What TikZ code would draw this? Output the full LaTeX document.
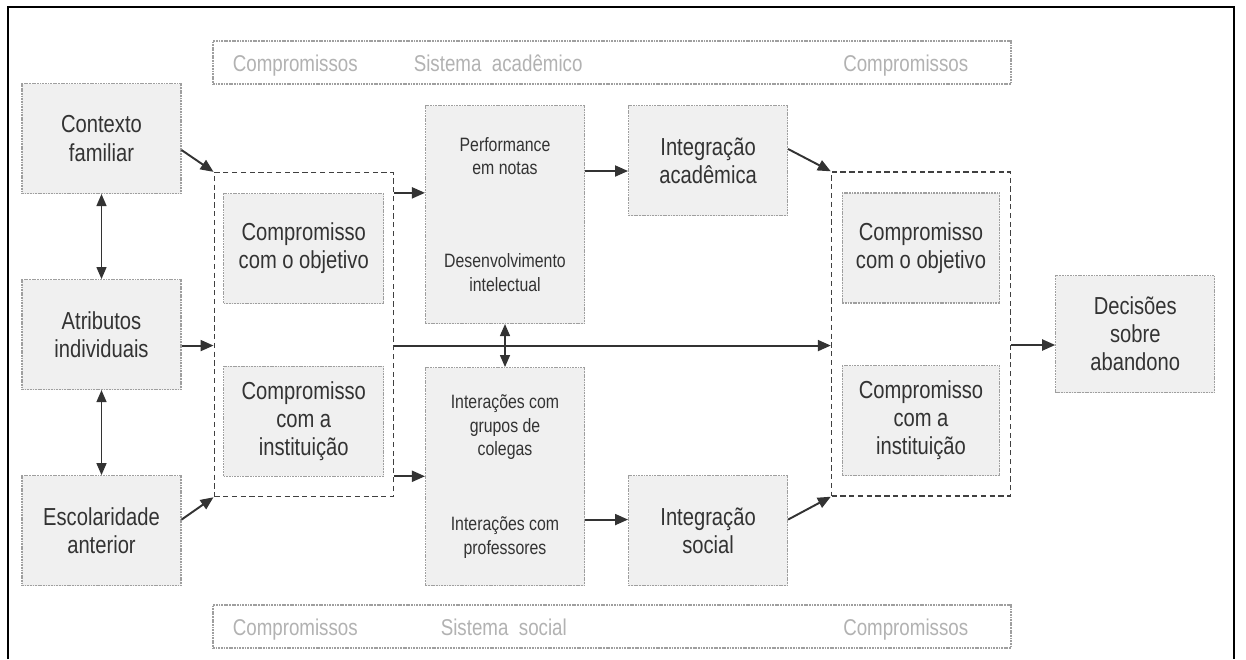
\documentclass[tikz,border=0pt]{standalone}
\usepackage{fontspec}
\setmainfont{Liberation Sans}[FakeStretch=0.82]
\usetikzlibrary{positioning, arrows.meta, calc}

\begin{document}
\begin{tikzpicture}[
    node distance=1.7cm,
    font=\fontsize{14}{16}\selectfont,
    text=black!80,
    box/.style={
        rectangle,
        draw=gray!75,
        dash pattern=on 1pt off 0.5pt,
        line width=0.6pt,
        fill=gray!12,
        minimum width=3.18cm,
        minimum height=2.2cm,
        align=center,
        inner sep=2pt
    },
    tallbox/.style={box, minimum height=4.36cm, font=\fontsize{11}{13.6}\selectfont},
    group/.style={
        rectangle,
        draw=black!75,
        dash pattern=on 3pt off 2pt,
        line width=0.8pt,
        minimum width=3.58cm,
        minimum height=6.48cm
    },
    banner/.style={
        rectangle,
        draw=gray!75,
        dash pattern=on 1pt off 0.5pt,
        line width=0.6pt,
        fill=white,
        minimum width=15.96cm,
        minimum height=0.86cm
    },
    bannertext/.style={text=gray!60, font=\fontsize{13}{15}\selectfont, inner sep=0pt},
    arr/.style={-{Triangle[length=2.6mm, width=2.2mm]}, line width=1.1pt, draw=black!80},
    dbl/.style={{Triangle[length=2.4mm, width=2mm]}-{Triangle[length=2.4mm, width=2mm]},
        line width=0.8pt, draw=black!80}
]
\useasboundingbox (0,0) rectangle (24.92,-13.18);
\draw[line width=1.6pt] (0.16,-13.18) |- (24.68,-0.14) -- (24.68,-13.18);

% banners
\node[banner] (topbar) at (12.24,-1.25) {};
\node[banner] (botbar) at (12.24,-12.53) {};
\node[bannertext, anchor=base west] (tcompa) at ([xshift=0.4cm, yshift=-0.18cm]topbar.west) {Compromissos};
\node[bannertext, anchor=base west] (tsist)  at ([xshift=4.02cm, yshift=-0.18cm]topbar.west) {Sistema\ \ acadêmico};
\node[bannertext, anchor=base east] (tcompb) at ([xshift=-0.86cm, yshift=-0.18cm]topbar.east) {Compromissos};
\node[bannertext, anchor=base west] (bcompa) at ([xshift=0.4cm, yshift=-0.18cm]botbar.west) {Compromissos};
\node[bannertext, anchor=base west] (bsist)  at ([xshift=4.56cm, yshift=-0.18cm]botbar.west) {Sistema\ \ social};
\node[bannertext, anchor=base east] (bcompb) at ([xshift=-0.86cm, yshift=-0.18cm]botbar.east) {Compromissos};

% left column
\node[box] (famil) at (2.03,-2.77) {Contexto\\familiar};
\node[box, below=of famil] (atrib) {Atributos\\individuais};
\node[box, below=of atrib] (escol) {Escolaridade\\anterior};

% left group
\node[group, right=0.64cm of atrib] (lgrp) {};
\node[box, minimum width=3.2cm] (lobj)  at ($(lgrp.center)+(0,1.72)$)  {Compromisso\\com o objetivo};
\node[box, minimum width=3.2cm] (linst) at ($(lgrp.center)+(0,-1.73)$) {Compromisso\\com a\\instituição};

% middle
\node[tallbox] (perf) at (10.10,-4.29)
    {Performance\\em notas\\[1.38cm]Desenvolvimento\\intelectual};
\node[tallbox, below=0.86cm of perf] (inter)
    {Interações com\\grupos de\\colegas\\[1.02cm]Interações com\\professores};
\node[box, right=0.86cm of perf.north east, anchor=north west] (iacad) {Integração\\acadêmica};
\node[box, right=0.86cm of inter.south east, anchor=south west] (isoc) {Integração\\social};

% right group
\node[group] (rgrp) at (18.42,-6.68) {};
\node[box, minimum width=3.15cm] (robj)  at ($(rgrp.center)+(0,1.72)$)  {Compromisso\\com o objetivo};
\node[box, minimum width=3.15cm] (rinst) at ($(rgrp.center)+(0,-1.73)$) {Compromisso\\com a\\instituição};
\node[box, minimum height=2.34cm, right=0.88cm of rgrp] (decis) {Decisões\\sobre\\abandono};

% connectors
\coordinate (cfam) at ([yshift=-0.23cm]famil.east);
\coordinate (catr) at ([yshift=-0.22cm]atrib.east);
\coordinate (cesc) at ([yshift=0.22cm]escol.east);
\coordinate (cup)  at ([yshift=-0.42cm]lgrp.north east);
\coordinate (cdn)  at ([yshift=0.42cm]lgrp.south east);
\coordinate (cmid) at ([yshift=-0.22cm]lgrp.east);
\coordinate (cacd) at ([yshift=-0.21cm]iacad.west);
\coordinate (csoc) at ([yshift=0.22cm]isoc.west);
\coordinate (cia)  at ([yshift=0.23cm]iacad.east);
\coordinate (cis)  at ([yshift=0.22cm]isoc.east);
\coordinate (cout) at ([yshift=-0.22cm]rgrp.east);

\draw[dbl] (famil) -- (atrib);
\draw[dbl] (atrib) -- (escol);
\draw[arr] (cfam) -- (lgrp.north west);
\draw[arr] (catr) -- (catr -| lgrp.west);
\draw[arr] (cesc) -- (lgrp.south west);
\draw[arr] (cup) -- (cup -| perf.west);
\draw[arr] (cdn) -- (cdn -| inter.west);
\draw[arr] (cmid) -- (cmid -| rgrp.west);
\draw[dbl] (perf) -- (inter);
\draw[arr] (cacd -| perf.east) -- (cacd);
\draw[arr] (csoc -| inter.east) -- (csoc);
\draw[arr] (cia) -- (rgrp.north west);
\draw[arr] (cis) -- (rgrp.south west);
\draw[arr] (cout) -- (cout -| decis.west);
\end{tikzpicture}
\end{document}
